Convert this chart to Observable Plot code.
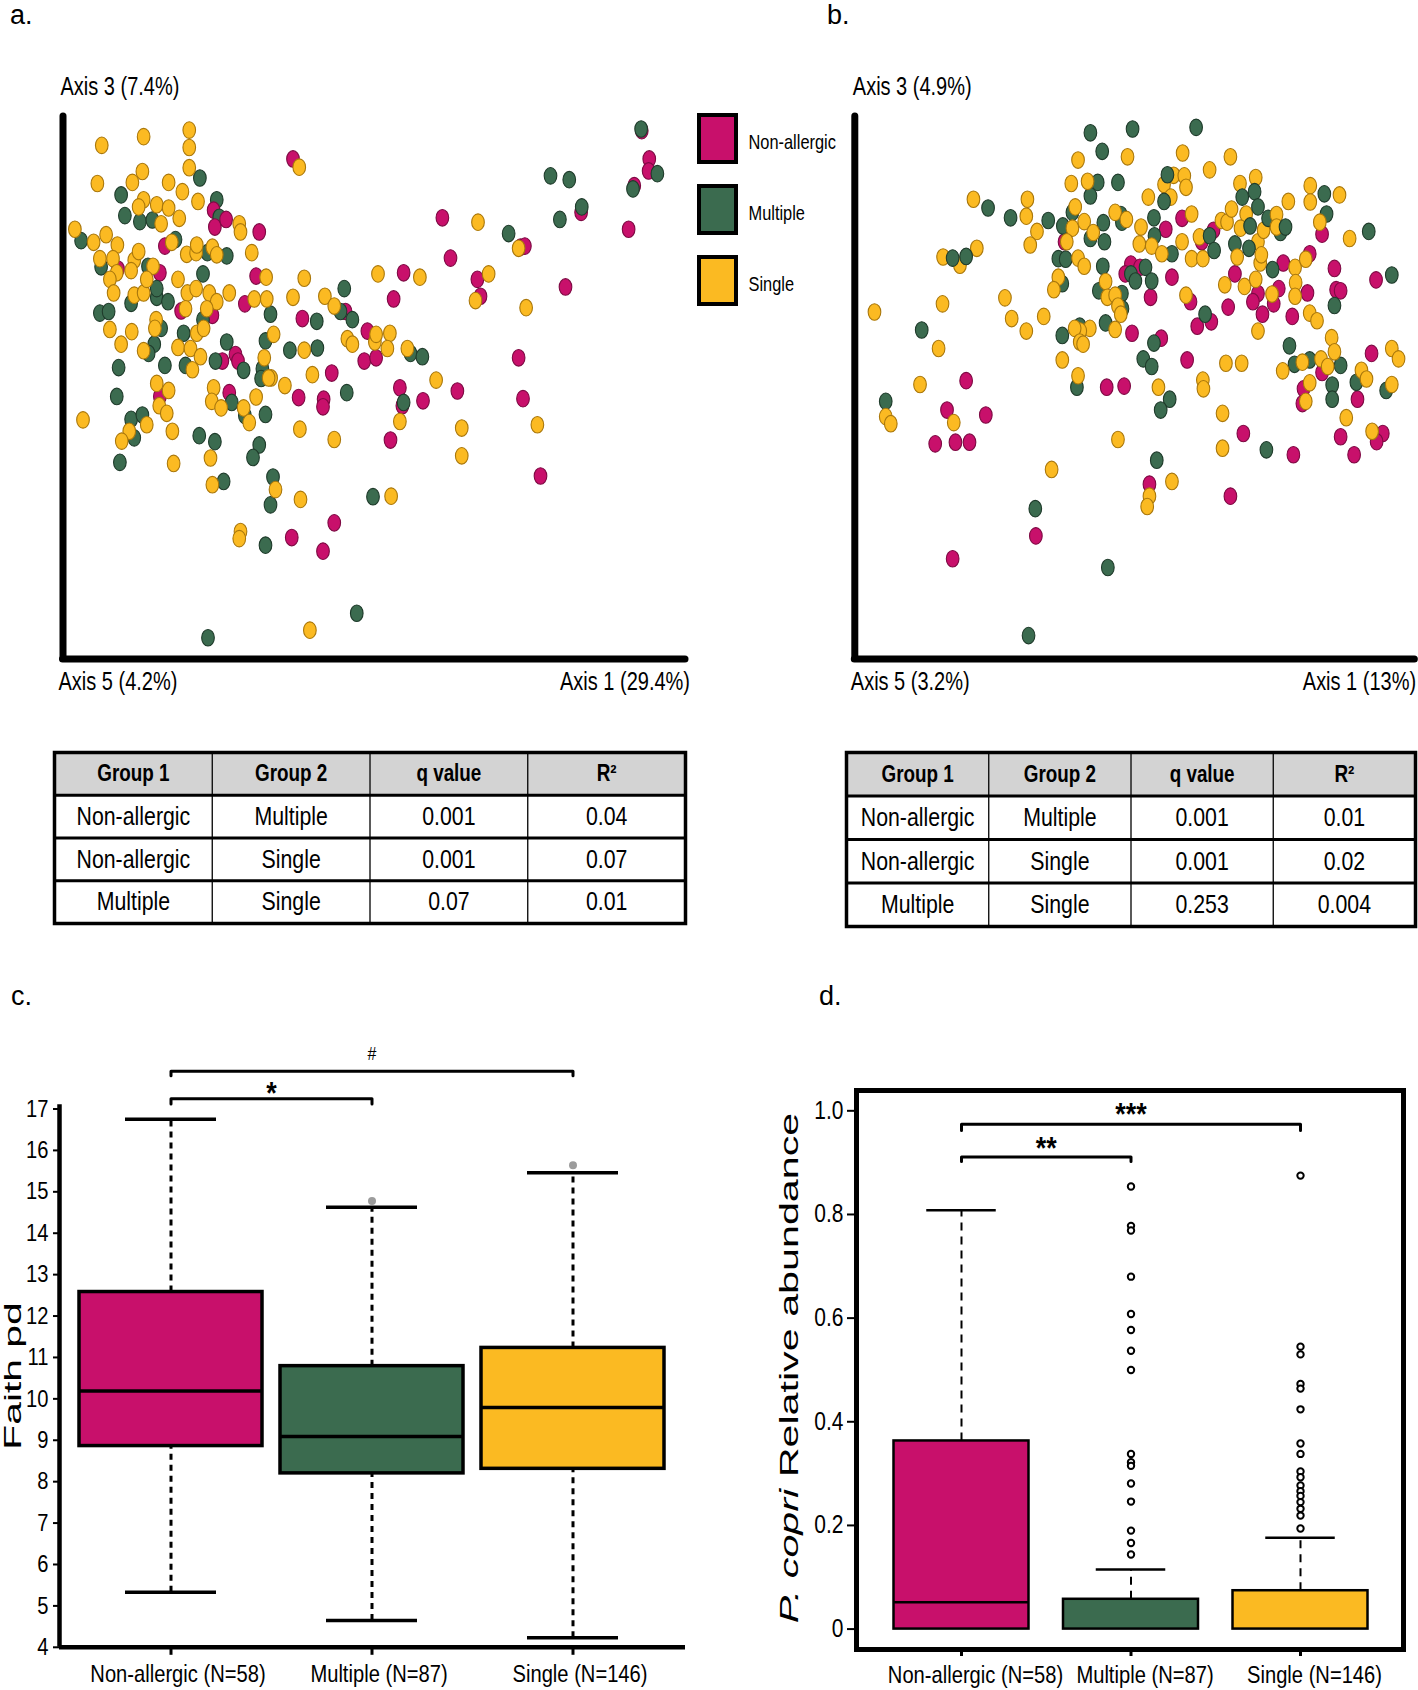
<!DOCTYPE html>
<html><head><meta charset="utf-8">
<script src="https://cdn.jsdelivr.net/npm/d3@7"></script>
<script src="https://cdn.jsdelivr.net/npm/@observablehq/plot@0.6"></script>
<style>
body{margin:0;background:#fff;}
#fig{position:relative;width:1418px;height:1690px;overflow:hidden;background:#fff;}
#fig > *{position:absolute;}
.plbl{font-family:"Liberation Sans",Arial,sans-serif;font-size:27px;line-height:1;color:#000;}
.ylab{white-space:nowrap;line-height:1;color:#000;}
</style></head><body><div id="fig"></div>
<script>
// ---------------- DATA ----------------
const groupNames = ["Non-allergic", "Multiple", "Single"];
const groupColors = ["#C8106B", "#3B6B4F", "#FBBA22"];
const groupStrokes = ["#7d0a43", "#1f3b2b", "#a9770c"];

// Panel a: PCoA (Axis 5 vs Axis 3), relative score units 0-100
const aNonAllergic = [[36.8,91.8],[24.1,82.4],[24.3,79.3],[26.1,80.7],[31.4,78.4],[16.3,75.8],[8.8,71.6],[15.5,70.9],[30.9,70.3],[29.1,65.2],[18.9,63.9],[23.9,63.1],[38.3,62.5],[45.2,63.8],[48.7,60.2],[48.2,54.7],[50.1,55.3],[43,52.5],[37.7,48],[41.7,47.7],[41.6,46.3],[25.5,54.7],[27.6,55.9],[28,54.7],[26.6,48.9],[15.5,48.2],[53.9,49.8],[54.3,46.5],[57.6,47.4],[63.1,49.2],[54.5,70.9],[52.9,66.1],[60.7,81],[62,73.6],[66.3,69.7],[66.8,66.6],[73.2,75.6],[73.9,75.8],[80.4,68.3],[72.9,55.3],[73.6,47.8],[76.4,33.6],[52.4,40.2],[43.4,25],[36.6,22.3],[41.6,19.8],[92.6,97],[93.8,91.8],[93.7,89.6],[91.4,86.9],[90.5,78.9],[82.9,82]];
const aMultiple = [[21.9,88.3],[24.6,84.3],[25,81.1],[9.3,85.2],[9.9,81.4],[12.3,80.3],[14.3,80.6],[2.9,76.8],[18,77],[23.1,74.6],[26.2,74],[22.4,70.7],[13.6,72.1],[6.1,72],[5.9,63.5],[7.3,63.8],[10.9,65.3],[15,66.4],[16.8,65.6],[15,68],[22.4,62.3],[33.2,63.3],[45,68],[44.4,63.8],[46.3,62.3],[40.6,62],[36.3,56.7],[40.7,57.1],[32.4,58.4],[26.2,58.2],[24.4,54.7],[28.9,53],[31.9,53.3],[31.7,51.5],[19.3,59.8],[15.7,60.7],[14.6,57.8],[13.7,56.1],[16.3,53.9],[19.6,53.9],[8.9,53.5],[8.6,48.2],[27,47.1],[29.1,44.7],[32.4,44.9],[45.4,48.9],[55.6,56.1],[57.5,55.5],[54.5,47.1],[10.9,44],[12.7,44.8],[11.4,40.6],[21.8,41],[24.3,39.9],[31.4,39.3],[30.4,37],[9.1,36.1],[25.7,32.6],[33.6,33.4],[33.2,28.3],[32.4,20.9],[49.6,29.8],[47,8.4],[23.2,3.9],[78,88.7],[81,88],[83,83],[79.5,80.7],[71.3,78.1],[92.5,97.3],[95.1,89.1],[91.2,86.3]];
const aSingle = [[6.2,94.3],[12.9,95.9],[20.2,97.1],[20.2,93.9],[20.2,90.2],[5.5,87.3],[12.7,89.5],[11.1,87.5],[16.9,87.5],[19.1,85.8],[21.6,84],[12.9,84.3],[12.1,83],[15,83.4],[16.9,82.8],[18.6,80.9],[1.9,78.9],[4.9,76.5],[6.9,77.9],[8.7,76],[5.9,73.5],[8,73.5],[11.4,73.2],[12.1,74.8],[15.7,79.9],[17.4,76.5],[19.8,74.3],[21.3,74.6],[21.4,76],[23.9,75.6],[28.2,79.9],[28.4,78.4],[30.2,74.6],[24.6,74.2],[8.6,70.9],[10.9,71.3],[14.4,72.1],[18.4,69.7],[7.5,69.7],[8.1,67.2],[11.4,66.8],[12.9,67.2],[13.4,69.7],[19.9,67.2],[21.3,68],[23.4,67.2],[26.6,67.2],[24.6,65.6],[19.6,64.3],[23,64.3],[14.9,62.3],[14.7,60.7],[21.4,59.8],[22.5,60.7],[7.5,60.5],[11,60.1],[9.3,57.8],[12.9,56.6],[18.4,57.2],[20.4,57],[22,55.5],[20.7,53.1],[15,50.6],[16.9,49.3],[15.4,46.5],[16.6,45.1],[24.1,49.8],[23.8,47.3],[25.3,46.1],[30.9,48.1],[28.9,46.1],[29.8,43.4],[32.2,55.3],[33.3,51.6],[33.7,59.6],[32.6,66.1],[32.5,70.1],[30.6,66.1],[36.8,66.4],[38.6,69.9],[41.9,66.6],[43.4,64.8],[38.6,56.7],[39.9,52.2],[35.5,50.2],[45.5,58.8],[46.3,57.8],[49.9,58.2],[50.1,59.6],[52.3,59.8],[51.9,57],[55.1,57],[50.4,70.7],[57.1,70.1],[59.7,51.2],[66.4,80.2],[68.1,70.7],[66,65.8],[74.1,64.5],[72.9,75.4],[63.8,42.4],[63.8,37.3],[75.9,43],[37.9,42.2],[43.4,40.3],[53.9,43.6],[52.5,29.9],[38,29.3],[28.4,23.4],[28.2,22.1],[34,31.1],[23.9,32],[23.6,36.9],[17.5,41.8],[17.7,35.9],[13.4,43],[10.6,41.8],[9.4,40],[3.2,43.9],[39.5,5.3],[37.8,90.3],[32.9,51.6]];

// Panel b: PCoA (Axis 5 vs Axis 3), relative score units 0-100
const bNonAllergic = [[37.3,76.6],[49.1,72.5],[50.7,71.9],[48.1,70.7],[55.3,78.9],[58.2,80.9],[61.7,76.6],[63.8,78.7],[56.4,70.1],[52.6,66.4],[59.7,65.6],[49.3,59.8],[54.5,58.9],[60.9,61.1],[63.4,61.9],[59.1,54.9],[44.8,49.9],[47.9,50.1],[67.6,70.7],[71.7,67.1],[70.8,65.6],[72.5,63.3],[74.5,65.2],[75.4,68],[76.2,72.7],[77.8,62.9],[80.5,67.2],[80.9,74.4],[83.1,78],[85.3,71.7],[85.6,67.8],[86.4,67.6],[92.7,69.6],[91.9,56.1],[83.1,52.6],[79.8,49.6],[79.6,46.9],[89.4,47.7],[93.9,41.4],[92.8,39.9],[86.4,40.8],[88.8,37.5],[78,37.5],[69.1,41.4],[66.8,29.9],[52.4,32.1],[19.8,51.1],[16.4,45.7],[23.3,44.8],[14.3,39.5],[17.9,39.8],[20.4,39.8],[32.2,22.6],[17.4,18.4],[66.4,64.6]];
const bMultiple = [[41.9,96.6],[49.4,97.3],[60.7,97.6],[44,93.2],[43.2,87.5],[46.8,87.5],[41.9,85],[23.7,82.8],[27.7,81],[34.4,80.5],[37,79.5],[38.7,82],[41.9,77.2],[44.2,80.1],[44.4,76.6],[47.3,81.6],[47.5,80.2],[53.2,81],[53.3,77.7],[55.6,88.9],[55,84],[56.4,74.4],[49.1,70.7],[49.9,69.4],[51.7,71.9],[52.8,69.4],[44.1,72.1],[36.2,73.5],[37.5,73.4],[36.9,68.9],[43.4,67.6],[47.5,67.1],[47.6,64.3],[44.6,61.7],[40,61.1],[36.9,59.4],[53.2,58],[51.3,55.1],[52.8,53.7],[56,47.7],[54.4,45.7],[53.7,36.5],[62.3,63.3],[63.1,77.7],[63.9,75],[67.6,76.2],[68.9,84.8],[71.1,85.8],[71.7,83],[70.3,79.5],[70.1,75.4],[73.5,80.9],[75.7,78.3],[76.6,79.3],[74.3,71.5],[83.5,85.4],[83.9,81.7],[91.4,78.5],[95.5,70.5],[85.3,64.9],[77.3,57.5],[78.2,54.1],[80.9,54.9],[86.4,53.9],[84.9,50.3],[84.9,47.7],[89.2,50.8],[94.5,49.3],[73.2,38.4],[17.4,73.6],[19.8,73.9],[11.9,60.4],[5.5,47.3],[39.5,49.9],[32.1,27.6],[45,16.8],[30.9,4.3]];
const bSingle = [[39.7,91.6],[48.5,92.2],[58.3,92.9],[66.8,92.2],[63.1,89.8],[71.3,88.4],[68.5,87.3],[56.7,88.8],[58.6,88.7],[55,87.1],[58.9,86.6],[56.2,84.8],[52.2,84.8],[77.1,84],[81,86.9],[81,83.9],[86.2,85.2],[88,77.2],[21.1,84.4],[30.7,84.4],[30.5,81.3],[32.4,78.5],[31.2,76],[21.7,75.4],[15.7,73.8],[18.7,72.3],[38.5,87.3],[41.4,87.7],[39.2,83],[38.7,79.1],[40.8,80.3],[42.4,78.3],[46.3,82],[48.3,80.7],[50.9,79.3],[50.6,76.2],[52.8,75.8],[54.6,74.4],[58.2,76.6],[59.9,73.5],[61.9,73.5],[61.3,77.5],[59.9,81.7],[65.2,80.5],[66.2,80.2],[67,82.6],[69.6,81.7],[68.6,79.1],[68,73.8],[71.7,76.6],[72.7,78.7],[75,81.6],[75,79.3],[72.1,72.7],[72.3,74.2],[78.3,71.9],[78.4,69.1],[78.3,66.6],[80.2,73.4],[82.7,80.2],[65.8,68.7],[69.3,68.4],[71.3,69.7],[74.2,67],[58.9,66.8],[37.7,76.6],[39.7,73.6],[40.8,72.1],[36.2,70.1],[35.4,67.8],[44.6,69.3],[44.9,66.4],[46.3,66.8],[46.8,64.8],[47.3,63.3],[46.3,60.5],[41.8,60.7],[40.1,60.2],[39.1,60.7],[40,58.2],[40.6,57.8],[26.7,66.3],[27.9,62.5],[30.5,60.2],[33.6,62.9],[15.6,65.2],[14.9,57],[11.6,50.4],[3.5,63.7],[5.5,44.5],[6.4,43.2],[17.6,43.4],[36.9,54.9],[39.7,52],[46.8,40.3],[35,34.8],[54,49.9],[61.9,51.2],[62,49.6],[65.4,45.1],[66,54.3],[68.8,54.3],[65.4,38.7],[56.4,32.6],[52.4,29.9],[52,28],[71.7,60.2],[80.9,63.5],[82.2,62.1],[84.8,59],[85.3,56.4],[82.9,55.1],[84.1,53.7],[79.6,54.5],[76.1,52.9],[80.9,50.7],[80.2,47.3],[87.4,44.3],[90.1,53],[91,51.4],[95.5,57],[96.7,55.1],[95.5,50.4],[92,41.8]];

const axisLabelsA = ["Axis 3 (7.4%)", "Axis 5 (4.2%)", "Axis 1 (29.4%)"];
const axisLabelsB = ["Axis 3 (4.9%)", "Axis 5 (3.2%)", "Axis 1 (13%)"];

// PERMANOVA tables
const tableHeader = ["Group 1", "Group 2", "q value", "R\u00B2"];
const tableA = [["Non-allergic","Multiple","0.001","0.04"],["Non-allergic","Single","0.001","0.07"],["Multiple","Single","0.07","0.01"]];
const tableB = [["Non-allergic","Multiple","0.001","0.01"],["Non-allergic","Single","0.001","0.02"],["Multiple","Single","0.253","0.004"]];

// Panel c: Faith pd boxplot
const boxGroups = ["Non-allergic (N=58)", "Multiple (N=87)", "Single (N=146)"];
const faithMin = [5.33, 4.65, 4.23];
const faithQ1  = [8.86, 8.20, 8.31];
const faithMed = [10.19, 9.09, 9.79];
const faithQ3  = [12.58, 10.79, 11.23];
const faithMax = [16.75, 14.63, 15.46];
const faithOutliers = [[1, 14.78], [2, 15.64]];
const faithTicks = [4,5,6,7,8,9,10,11,12,13,14,15,16,17];

// Panel d: P. copri relative abundance boxplot
const copriQ1  = [0, 0, 0];
const copriMed = [0.052, 0.002, 0.003];
const copriQ3  = [0.363, 0.0575, 0.074];
const copriMax = [0.808, 0.115, 0.176];
const copriOutMultiple = [0.854,0.778,0.769,0.680,0.608,0.577,0.537,0.500,0.338,0.322,0.315,0.281,0.246,0.190,0.166,0.144];
const copriOutSingle = [0.875,0.545,0.530,0.473,0.464,0.424,0.358,0.338,0.304,0.293,0.277,0.266,0.257,0.245,0.232,0.219,0.194];
const copriTicks = [0, 0.2, 0.4, 0.6, 0.8, 1.0];

// ---------------- HELPERS ----------------
const SANS = '"Liberation Sans",Arial,Helvetica,sans-serif';
const fig = document.getElementById("fig");
function place(el, left, top) { el.style.position = "absolute"; el.style.left = left + "px"; el.style.top = top + "px"; fig.appendChild(el); return el; }
const baseStyle = {background: "transparent", overflow: "visible", fontFamily: SANS, fontSize: "22px", color: "black"};
// condensed lettering, as in the original figure
function condense(svg, s) {
  svg.querySelectorAll("text").forEach(t => {
    const tr = t.getAttribute("transform") || "";
    t.setAttribute("transform", (tr + ` scale(${s},1)`).trim());
  });
  return svg;
}
const ellipse = {
  draw(ctx, size) {
    const r = Math.sqrt(size / Math.PI), rx = r * 0.8, ry = r * 1.05, k = 0.5523;
    ctx.moveTo(rx, 0);
    ctx.bezierCurveTo(rx, ry * k, rx * k, ry, 0, ry);
    ctx.bezierCurveTo(-rx * k, ry, -rx, ry * k, -rx, 0);
    ctx.bezierCurveTo(-rx, -ry * k, -rx * k, -ry, 0, -ry);
    ctx.bezierCurveTo(rx * k, -ry, rx, -ry * k, rx, 0);
    ctx.closePath();
  }
};
function mix(sets) {
  const out = [];
  const n = Math.max(...sets.map(s => s[1].length));
  for (let i = 0; i < n; i++) for (const [gi, pts] of sets) if (i < pts.length) out.push({x: pts[i][0], y: pts[i][1], g: gi});
  return out;
}

function scatter(points, labels, o) {
  return condense(Plot.plot({
    width: o.width, height: 700,
    marginLeft: o.ml, marginRight: o.mr, marginTop: 113.8, marginBottom: 41.5,
    x: {domain: [0, 100], axis: null},
    y: {domain: [0, 100], axis: null},
    color: {type: "identity"},
    style: baseStyle,
    marks: [
      Plot.dot(points, {x: "x", y: "y", r: 7.9, symbol: ellipse, fill: d => groupColors[d.g], stroke: d => groupStrokes[d.g], strokeWidth: 1.1}),
      Plot.ruleX([0], {y1: 0, y2: 99.6, strokeWidth: 7, strokeLinecap: "round"}),
      Plot.ruleY([0], {x1: 0, x2: 99.6, strokeWidth: 7, strokeLinecap: "round"}),
      Plot.text([labels[0]], {text: d => d, frameAnchor: "top-left", lineAnchor: "middle", textAnchor: "start", dx: o.dxl, dy: -27, fontSize: 25}),
      Plot.text([labels[1]], {text: d => d, frameAnchor: "bottom-left", lineAnchor: "middle", textAnchor: "start", dx: o.dxl - 2, dy: 23, fontSize: 25}),
      Plot.text([labels[2]], {text: d => d, frameAnchor: "bottom-right", lineAnchor: "middle", textAnchor: "end", dx: o.dxr, dy: 23, fontSize: 25})
    ]
  }), 0.8);
}

function table(rows, w, h) {
  const all = [tableHeader, ...rows];
  const cells = [];
  all.forEach((r, i) => r.forEach((t, j) => cells.push({row: i, col: j, text: t})));
  return condense(Plot.plot({
    width: w + 4, height: h + 4, margin: 2,
    x: {domain: [0, 4], axis: null},
    y: {domain: [0, 4], range: [2, h + 2], axis: null},
    style: baseStyle,
    marks: [
      Plot.rect(cells, {x1: "col", x2: d => d.col + 1, y1: "row", y2: d => d.row + 1, fill: d => d.row === 0 ? "#d3d3d3" : "white"}),
      Plot.ruleX([1, 2, 3], {strokeWidth: 1.3}),
      Plot.ruleY([1, 2, 3], {strokeWidth: 3.2}),
      Plot.text(cells.filter(d => d.row === 0), {x: d => d.col + 0.5, y: d => d.row + 0.5, text: "text", fontSize: 23, fontWeight: "bold"}),
      Plot.text(cells.filter(d => d.row > 0), {x: d => d.col + 0.5, y: d => d.row + 0.5, text: "text", fontSize: 26}),
      Plot.frame({strokeWidth: 3.5})
    ]
  }), 0.82);
}

// ---------------- PANEL LABELS ----------------
[["a.", 10, 2], ["b.", 827, 2], ["c.", 11, 983], ["d.", 819, 983]].forEach(([t, x, y]) => {
  const d = document.createElement("div"); d.className = "plbl"; d.textContent = t; place(d, x, y);
});

// ---------------- PANEL A / B ----------------
place(scatter(mix([[1, aMultiple], [2, aSingle], [0, aNonAllergic]]), axisLabelsA, {width: 700, ml: 62.5, mr: 12.5, dxl: -2.5, dxr: 2}), 0, 0);
place(scatter(mix([[1, bMultiple], [2, bSingle], [0, bNonAllergic]]), axisLabelsB, {width: 718, ml: 154.3, mr: 1.4, dxl: -2, dxr: -1}), 700, 0);

// legend
place(condense(Plot.plot({
  width: 153, height: 217, marginLeft: 2, marginRight: 110, marginTop: 12, marginBottom: 10,
  x: {axis: null},
  y: {type: "band", domain: groupNames, paddingInner: 0.28, paddingOuter: 0, axis: null},
  color: {type: "identity"},
  style: baseStyle,
  marks: [
    Plot.cell(groupNames, {y: d => d, fill: (d, i) => groupColors[i], stroke: "black", strokeWidth: 4, inset: 2}),
    Plot.text(groupNames, {y: d => d, text: d => d, frameAnchor: "right", textAnchor: "start", dx: 10, dy: 3.5, fontSize: 20})
  ]
}), 0.82), 695, 100);

// tables
place(table(tableA, 631, 171), 52, 750);
place(table(tableB, 569, 174), 844, 750);

// ---------------- PANEL C ----------------
const boxC = boxGroups.map((g, i) => ({g, min: faithMin[i], q1: faithQ1[i], med: faithMed[i], q3: faithQ3[i], max: faithMax[i], fill: groupColors[i]}));
const outC = faithOutliers.map(([i, v]) => ({g: boxGroups[i], v}));
const brC1 = [[0, 17.12], [0, 17.25], [1, 17.25], [1, 17.12]].map(([i, y]) => ({g: boxGroups[i], y}));
const brC2 = [[0, 17.8], [0, 17.91], [2, 17.91], [2, 17.8]].map(([i, y]) => ({g: boxGroups[i], y}));
place(condense(Plot.plot({
  width: 700, height: 650, marginLeft: 59, marginRight: 15, marginTop: 68.5, marginBottom: 43.2,
  x: {type: "band", domain: boxGroups, range: [70, 673], padding: 0, round: false, label: null},
  y: {domain: [4, 17], label: null},
  color: {type: "identity"},
  style: baseStyle,
  marks: [
    Plot.ruleX(boxC, {x: "g", y1: "q3", y2: "max", strokeWidth: 3, strokeDasharray: "6,5"}),
    Plot.ruleX(boxC, {x: "g", y1: "min", y2: "q1", strokeWidth: 3, strokeDasharray: "6,5"}),
    Plot.barY(boxC, {x: "g", y1: "q1", y2: "q3", fill: "fill", stroke: "black", strokeWidth: 3.5, insetLeft: 9, insetRight: 9}),
    Plot.tickY(boxC, {x: "g", y: "med", strokeWidth: 3.5, insetLeft: 9, insetRight: 9}),
    Plot.tickY(boxC, {x: "g", y: "max", strokeWidth: 3.5, insetLeft: 55, insetRight: 55}),
    Plot.tickY(boxC, {x: "g", y: "min", strokeWidth: 3.5, insetLeft: 55, insetRight: 55}),
    Plot.dot(outC, {x: "g", y: "v", r: 4, fill: "#9c9c9c"}),
    Plot.axisY({ticks: faithTicks, tickSize: 6, strokeWidth: 2, tickPadding: 5, fontSize: 24, label: null}),
    Plot.axisX({tickSize: 8, strokeWidth: 3, tickFormat: () => "", label: null}),
    Plot.text(boxGroups, {x: d => d, text: d => d, frameAnchor: "bottom", lineAnchor: "middle", dx: 7, dy: 27, fontSize: 24}),
    Plot.ruleY([4], {strokeWidth: 4.5}),
    Plot.ruleX([boxGroups[0]], {y1: 4, y2: 17.1, dx: -111.5, strokeWidth: 4.5}),
    Plot.line(brC1, {x: "g", y: "y", strokeWidth: 3}),
    Plot.line(brC2, {x: "g", y: "y", strokeWidth: 3}),
    Plot.text([{g: boxGroups[1], y: 17.38}], {x: "g", y: "y", text: () => "*", dx: -100.5, fontSize: 32, fontWeight: "bold"}),
    Plot.text([{g: boxGroups[1], y: 18.32}], {x: "g", y: "y", text: () => "#", fontSize: 19})
  ]
}), 0.84), 0, 1040);

// ---------------- PANEL D ----------------
const boxD = boxGroups.map((g, i) => ({g, q1: copriQ1[i], med: copriMed[i], q3: copriQ3[i], max: copriMax[i], fill: groupColors[i]}));
const outD = [...copriOutMultiple.map(v => ({g: boxGroups[1], v})), ...copriOutSingle.map(v => ({g: boxGroups[2], v}))];
const brD1 = [[0, 0.902], [0, 0.911], [1, 0.911], [1, 0.902]].map(([i, y]) => ({g: boxGroups[i], y}));
const brD2 = [[0, 0.962], [0, 0.974], [2, 0.974], [2, 0.962]].map(([i, y]) => ({g: boxGroups[i], y}));
place(condense(Plot.plot({
  width: 678, height: 650, marginLeft: 116, marginRight: 15, marginTop: 50, marginBottom: 41,
  x: {type: "band", domain: boxGroups, range: [136.25, 644.75], padding: 0, round: false, label: null},
  y: {domain: [-0.0394, 1.0392], label: null},
  color: {type: "identity"},
  style: baseStyle,
  marks: [
    Plot.ruleX(boxD, {x: "g", y1: "q3", y2: "max", strokeWidth: 2, strokeDasharray: "8,6"}),
    Plot.barY(boxD, {x: "g", y1: "q1", y2: "q3", fill: "fill", stroke: "black", strokeWidth: 2.5, insetLeft: 17.25, insetRight: 17.25}),
    Plot.tickY(boxD.slice(0, 1), {x: "g", y: "med", strokeWidth: 2.5, insetLeft: 17.25, insetRight: 17.25}),
    Plot.tickY(boxD, {x: "g", y: "max", strokeWidth: 2.5, insetLeft: 50, insetRight: 50}),
    Plot.dot(outD, {x: "g", y: "v", r: 3.2, stroke: "black", strokeWidth: 2, fill: "white"}),
    Plot.axisY({ticks: copriTicks, tickFormat: d => d === 0 ? "0" : d.toFixed(1), tickSize: 9, strokeWidth: 2, tickPadding: 4, fontSize: 25, label: null}),
    Plot.axisX({tickSize: 7, strokeWidth: 3, tickFormat: () => "", label: null}),
    Plot.text(boxGroups, {x: d => d, text: d => d, frameAnchor: "bottom", lineAnchor: "middle", dx: 14, dy: 26, fontSize: 24}),
    Plot.frame({strokeWidth: 5}),
    Plot.line(brD1, {x: "g", y: "y", strokeWidth: 3}),
    Plot.line(brD2, {x: "g", y: "y", strokeWidth: 3}),
    Plot.text([{g: boxGroups[1], y: 0.927}], {x: "g", y: "y", text: () => "**", dx: -84.75, fontSize: 32, fontWeight: "bold"}),
    Plot.text([{g: boxGroups[1], y: 0.992}], {x: "g", y: "y", text: () => "***", fontSize: 32, fontWeight: "bold"})
  ]
}), 0.84), 740, 1040);

// ---------------- ROTATED Y LABELS ----------------
function ylab(html, cx, cy, font, size, stretch) {
  const d = document.createElement("div");
  d.className = "ylab";
  d.innerHTML = html;
  d.style.fontFamily = font; d.style.fontSize = size + "px";
  d.style.transform = `translate(-50%,-50%) rotate(-90deg) scaleX(${stretch})`;
  place(d, cx, cy);
}
ylab("Faith pd", 13, 1376, SANS, 24, 1.7);
ylab("<i>P. copri</i> Relative abundance", 789, 1368, SANS, 25, 1.65);
</script></body></html>
